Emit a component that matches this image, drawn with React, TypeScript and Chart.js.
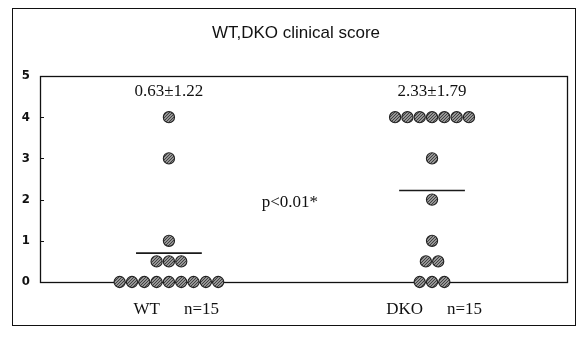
import { useEffect, useRef } from 'react';
import { Chart, registerables } from 'chart.js';

Chart.register(...registerables);

const titleText = 'WT,DKO clinical score';
const groups = ['WT', 'DKO'];
const groupPositions = [1, 2];
const sampleSizes = ['n=15', 'n=15'];
const statLabels = ['0.63±1.22', '2.33±1.79'];
const pValueLabel = 'p<0.01*';
const wtScores = [4, 3, 1, 0.5, 0.5, 0.5, 0, 0, 0, 0, 0, 0, 0, 0, 0];
const dkoScores = [4, 4, 4, 4, 4, 4, 4, 3, 2, 1, 0.5, 0.5, 0, 0, 0];
const meanLines = [0.7, 2.22];
const yTicks = [0, 1, 2, 3, 4, 5];

const DOT_STEP = 0.0468; // horizontal spacing between touching dots (x units)
const MEAN_HALF = 0.125;

function swarm(values: number[], center: number) {
  const counts = new Map<number, number>();
  values.forEach((v) => counts.set(v, (counts.get(v) || 0) + 1));
  const used = new Map<number, number>();
  return values.map((v) => {
    const n = counts.get(v) || 1;
    const i = used.get(v) || 0;
    used.set(v, i + 1);
    return { x: center + (i - (n - 1) / 2) * DOT_STEP, y: v };
  });
}

function makePattern(): CanvasPattern | string {
  const c = document.createElement('canvas');
  c.width = 3;
  c.height = 3;
  const g = c.getContext('2d');
  if (!g) return '#707070';
  g.fillStyle = '#959595';
  g.fillRect(0, 0, 3, 3);
  g.fillStyle = '#404040';
  g.fillRect(2, 0, 1, 1);
  g.fillRect(1, 1, 1, 1);
  g.fillRect(0, 2, 1, 1);
  const p = g.createPattern(c, 'repeat');
  return p || '#707070';
}

const SERIF = '"Liberation Serif", "Times New Roman", serif';

export default function App() {
  const ref = useRef<HTMLCanvasElement>(null);

  useEffect(() => {
    if (!ref.current) return;
    const fill = makePattern();

    const framePlugin = {
      id: 'framePlugin',
      beforeDraw(chart: any) {
        const ctx = chart.ctx;
        ctx.save();
        ctx.fillStyle = '#ffffff';
        ctx.fillRect(0, 0, chart.width, chart.height);
        ctx.strokeStyle = '#111';
        ctx.lineWidth = 1;
        ctx.strokeRect(12.5, 8.5, 563, 317);
        ctx.fillStyle = '#111';
        ctx.font = '17px "Liberation Sans", Arial, sans-serif';
        ctx.textAlign = 'center';
        ctx.textBaseline = 'middle';
        ctx.fillText(titleText, 296, 33);
        ctx.restore();
      },
      beforeDatasetsDraw(chart: any) {
        const ctx = chart.ctx;
        const a = chart.chartArea;
        const ys = chart.scales.y;
        ctx.save();
        ctx.strokeStyle = '#111';
        ctx.lineWidth = 1.3;
        ctx.strokeRect(Math.round(a.left) + 0.5, Math.round(a.top) + 0.5, Math.round(a.right - a.left), Math.round(a.bottom - a.top));
        ctx.lineWidth = 1;
        yTicks.slice(1, -1).forEach((t) => {
          const y = Math.round(ys.getPixelForValue(t)) + 0.5;
          ctx.beginPath();
          ctx.moveTo(a.left, y);
          ctx.lineTo(a.left + 4, y);
          ctx.stroke();
        });
        ctx.restore();
      },
      afterDatasetsDraw(chart: any) {
        const ctx = chart.ctx;
        const a = chart.chartArea;
        const xs = chart.scales.x;
        const ys = chart.scales.y;
        ctx.save();
        ctx.fillStyle = '#111';
        ctx.font = `17px ${SERIF}`;
        ctx.textBaseline = 'middle';
        groupPositions.forEach((pos, i) => {
          const px = xs.getPixelForValue(pos);
          ctx.textAlign = 'center';
          ctx.fillText(statLabels[i], px, ys.getPixelForValue(4.62));
          ctx.textAlign = 'right';
          ctx.fillText(groups[i], px - 9, a.bottom + 28);
          ctx.textAlign = 'left';
          ctx.fillText(sampleSizes[i], px + 15, a.bottom + 28);
        });
        ctx.textAlign = 'center';
        ctx.fillText(pValueLabel, xs.getPixelForValue(1.46), ys.getPixelForValue(1.94));
        ctx.restore();
      },
    };

    const pointStyle = {
      pointRadius: 5.6,
      pointHoverRadius: 5.6,
      pointBackgroundColor: fill,
      pointBorderColor: '#222',
      pointBorderWidth: 1.1,
      showLine: false,
      clip: false as any,
    };

    const chart = new Chart(ref.current, {
      type: 'scatter',
      data: {
        datasets: [
          {
            label: groups[0],
            data: swarm(wtScores, groupPositions[0]),
            ...pointStyle,
          } as any,
          {
            label: groups[1],
            data: swarm(dkoScores, groupPositions[1]),
            ...pointStyle,
          } as any,
          ...groupPositions.map((pos, i) => ({
            type: 'line',
            label: `mean ${groups[i]}`,
            data: [
              { x: pos - MEAN_HALF, y: meanLines[i] },
              { x: pos + MEAN_HALF, y: meanLines[i] },
            ],
            borderColor: '#1a1a1a',
            borderWidth: 1.6,
            pointRadius: 0,
            showLine: true,
            clip: false,
          })) as any,
        ],
      },
      options: {
        animation: false,
        responsive: false,
        maintainAspectRatio: false,
        layout: { padding: { top: 76, right: 13, bottom: 56, left: 0 } },
        plugins: {
          legend: { display: false },
          tooltip: { enabled: false },
          title: { display: false },
        },
        scales: {
          x: { type: 'linear', min: 0.51, max: 2.513, display: false },
          y: {
            type: 'linear',
            min: 0,
            max: 5,
            afterBuildTicks: (s: any) => {
              s.ticks = yTicks.map((v) => ({ value: v }));
            },
            afterFit: (s: any) => {
              s.width = 40;
            },
            ticks: {
              color: '#111',
              padding: 2,
              font: { family: '"DejaVu Sans Condensed", "DejaVu Sans", sans-serif', size: 13, weight: 'bold' },
            },
            grid: { display: false },
            border: { display: false },
          },
        },
      },
      plugins: [framePlugin],
    });

    return () => chart.destroy();
  }, []);

  return (
    <div style={{ position: 'absolute', left: 0, top: 0, width: 580, height: 338, background: '#fff' }}>
      <canvas ref={ref} width={580} height={338} style={{ display: 'block', width: 580, height: 338 }} />
    </div>
  );
}
